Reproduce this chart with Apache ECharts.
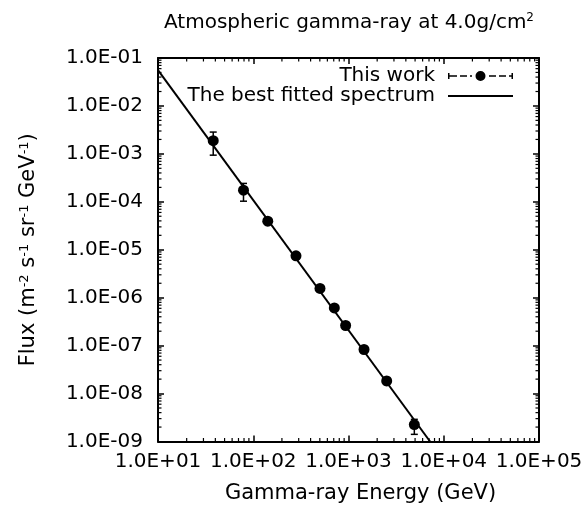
<!DOCTYPE html>
<html><head><meta charset="utf-8">
<script src="https://cdn.jsdelivr.net/npm/echarts@6/dist/echarts.min.js"></script>
<style>html,body{margin:0;padding:0;background:#fff}#c{width:582px;height:510px}</style>
</head><body><div id="c"></div>
<script>
// ---- data ----
const energy   = [38, 79, 142, 281, 502, 710, 933, 1455, 2517, 4910];           // GeV
const flux     = [1.88e-3, 1.75e-4, 3.95e-5, 7.46e-6, 1.56e-6, 6.12e-7, 2.63e-7, 8.3e-8, 1.83e-8, 2.25e-9];
const fluxLow  = [9.4e-4, 1.03e-4, 3.7e-5, 7.1e-6, 1.48e-6, 5.8e-7, 2.5e-7, 7.8e-8, 1.55e-8, 1.41e-9];
const fluxHigh = [2.85e-3, 2.42e-4, 4.2e-5, 7.8e-6, 1.64e-6, 6.4e-7, 2.75e-7, 8.8e-8, 2.15e-8, 2.9e-9];
const fitEnergy = [10, 7180];
const fitFlux   = [0.056, 1e-9];
const xTickLabels = ['1.0E+01', '1.0E+02', '1.0E+03', '1.0E+04', '1.0E+05'];
const yTickLabels = ['1.0E-09', '1.0E-08', '1.0E-07', '1.0E-06', '1.0E-05', '1.0E-04', '1.0E-03', '1.0E-02', '1.0E-01'];
const xDecades = [10, 100, 1000, 10000];
const yDecades = [1e-9, 1e-8, 1e-7, 1e-6, 1e-5, 1e-4, 1e-3, 1e-2];
const minorMultipliers = [2, 3, 4, 5, 6, 7, 8, 9];

const FONT = 'DejaVu Sans';
const X_MIN = 10, X_MAX = 1e5, Y_MIN = 1e-9, Y_MAX = 1e-1;

const minorX = [], minorY = [];
xDecades.forEach(d => minorMultipliers.forEach(m => minorX.push([d * m, Y_MIN])));
yDecades.forEach(d => minorMultipliers.forEach(m => minorY.push([X_MIN, d * m])));

const pointData = energy.map((e, i) => [e, flux[i], fluxLow[i], fluxHigh[i]]);
const fitData = fitEnergy.map((e, i) => [e, fitFlux[i]]);

const legendIcon = 'path://M0 2H1.5V8H0Z M1.5 4.3H9V5.7H1.5Z M12 4.3H19V5.7H12Z M22 4.3H24V5.7H22Z ' +
  'M27.5 5A5 5 0 1 1 37.5 5A5 5 0 1 1 27.5 5Z M41 4.3H48V5.7H41Z M51 4.3H58V5.7H51Z M61 4.3H63.5V5.7H61Z M63.5 2H65V8H63.5Z';
const lineIcon = 'path://M0 0H65V2H0Z';

const axisCommon = {
  axisLine: { show: true, lineStyle: { color: '#000', width: 2 } },
  axisTick: { show: true, inside: true, length: 6, lineStyle: { color: '#000', width: 1.5 } },
  splitLine: { show: false },
  minorTick: { show: false }
};

const chart = echarts.init(document.getElementById('c'), null, { renderer: 'canvas' });
chart.setOption({
  animation: false,
  backgroundColor: '#fff',
  title: {
    text: '{a|Atmospheric gamma-ray at 4.0g/cm}{s|2}',
    left: 349, top: 12, textAlign: 'center', padding: 0,
    textStyle: {
      fontWeight: 'normal',
      rich: {
        a: { fontFamily: FONT, fontSize: 20, fontWeight: 'normal', color: '#000', lineHeight: 22 },
        s: { fontFamily: FONT, fontSize: 12, fontWeight: 'normal', color: '#000', lineHeight: 12, verticalAlign: 'top' }
      }
    }
  },
  legend: {
    right: 69, top: 66, orient: 'vertical', align: 'right',
    itemWidth: 65, itemHeight: 10, itemGap: 0, padding: 0, symbolKeepAspect: true,
    textStyle: { fontFamily: FONT, fontSize: 20, color: '#000', lineHeight: 18, padding: [0, 8, 0, 0] },
    data: [
      { name: 'This work', icon: legendIcon, itemStyle: { color: '#000' } },
      { name: 'The best fitted spectrum', icon: lineIcon, itemStyle: { color: '#000' } }
    ]
  },
  grid: { left: 158, right: 43, top: 58, bottom: 68.5, containLabel: false, outerBoundsMode: 'none' },
  xAxis: [
    Object.assign({}, axisCommon, {
      type: 'log', logBase: 10, min: X_MIN, max: X_MAX, splitNumber: 4, position: 'bottom',
      name: 'Gamma-ray Energy (GeV)', nameLocation: 'middle', nameGap: 42,
      nameTextStyle: { fontFamily: FONT, fontSize: 21, color: '#000', padding: [0, 0, 0, 24] },
      axisLabel: {
        margin: 10, fontFamily: FONT, fontSize: 20, color: '#000',
        formatter: v => xTickLabels[Math.round(Math.log10(v)) - 1]
      }
    }),
    Object.assign({}, axisCommon, {
      type: 'log', logBase: 10, min: X_MIN, max: X_MAX, splitNumber: 4, position: 'top',
      axisLabel: { show: false }
    })
  ],
  yAxis: [
    Object.assign({}, axisCommon, {
      type: 'log', logBase: 10, min: Y_MIN, max: Y_MAX, splitNumber: 8, position: 'left',
      name: '{a|Flux (m}{s|-2}{a| s}{s|-1}{a| sr}{s|-1}{a| GeV}{s|-1}{a|)}',
      nameLocation: 'middle', nameRotate: 90, nameGap: 118,
      nameTextStyle: {
        rich: {
          a: { fontFamily: FONT, fontSize: 21, color: '#000', lineHeight: 22 },
          s: { fontFamily: FONT, fontSize: 13, color: '#000', lineHeight: 12, verticalAlign: 'top' }
        }
      },
      axisLabel: {
        margin: 15, fontFamily: FONT, fontSize: 20, color: '#000',
        formatter: v => yTickLabels[Math.round(Math.log10(v)) + 9]
      }
    }),
    Object.assign({}, axisCommon, {
      type: 'log', logBase: 10, min: Y_MIN, max: Y_MAX, splitNumber: 8, position: 'right',
      axisLabel: { show: false }
    })
  ],
  series: [
    {
      type: 'custom', name: 'minorX', silent: true, xAxisIndex: 0, yAxisIndex: 0,
      data: minorX, encode: { x: 0, y: 1 }, clip: false, z: 1,
      renderItem: (params, api) => {
        const b = api.coord([api.value(0), Y_MIN]);
        const t = api.coord([api.value(0), Y_MAX]);
        const st = { stroke: '#000', lineWidth: 1.2 };
        return { type: 'group', children: [
          { type: 'line', shape: { x1: b[0], y1: b[1], x2: b[0], y2: b[1] - 3.5 }, style: st },
          { type: 'line', shape: { x1: t[0], y1: t[1], x2: t[0], y2: t[1] + 3.5 }, style: st }
        ] };
      }
    },
    {
      type: 'custom', name: 'minorY', silent: true, xAxisIndex: 0, yAxisIndex: 0,
      data: minorY, encode: { x: 0, y: 1 }, clip: false, z: 1,
      renderItem: (params, api) => {
        const l = api.coord([X_MIN, api.value(1)]);
        const r = api.coord([X_MAX, api.value(1)]);
        const st = { stroke: '#000', lineWidth: 1.2 };
        return { type: 'group', children: [
          { type: 'line', shape: { x1: l[0], y1: l[1], x2: l[0] + 3.5, y2: l[1] }, style: st },
          { type: 'line', shape: { x1: r[0], y1: r[1], x2: r[0] - 3.5, y2: r[1] }, style: st }
        ] };
      }
    },
    {
      type: 'line', name: 'The best fitted spectrum', xAxisIndex: 0, yAxisIndex: 0,
      data: fitData, symbol: 'none', clip: true, z: 3,
      lineStyle: { color: '#000', width: 2 }, itemStyle: { color: '#000' }
    },
    {
      type: 'custom', name: 'This work', xAxisIndex: 0, yAxisIndex: 0,
      data: pointData, encode: { x: 0, y: 1 }, z: 4, itemStyle: { color: '#000' },
      renderItem: (params, api) => {
        const x = api.value(0);
        const c = api.coord([x, api.value(1)]);
        const pl = api.coord([x, api.value(2)]);
        const ph = api.coord([x, api.value(3)]);
        const st = { stroke: '#000', lineWidth: 1.5 };
        return { type: 'group', children: [
          { type: 'line', shape: { x1: c[0], y1: ph[1], x2: c[0], y2: pl[1] }, style: st },
          { type: 'line', shape: { x1: c[0] - 3.5, y1: ph[1], x2: c[0] + 3.5, y2: ph[1] }, style: st },
          { type: 'line', shape: { x1: c[0] - 3.5, y1: pl[1], x2: c[0] + 3.5, y2: pl[1] }, style: st },
          { type: 'circle', shape: { cx: c[0], cy: c[1], r: 5.5 }, style: { fill: '#000' } }
        ] };
      }
    }
  ]
});
</script></body></html>
